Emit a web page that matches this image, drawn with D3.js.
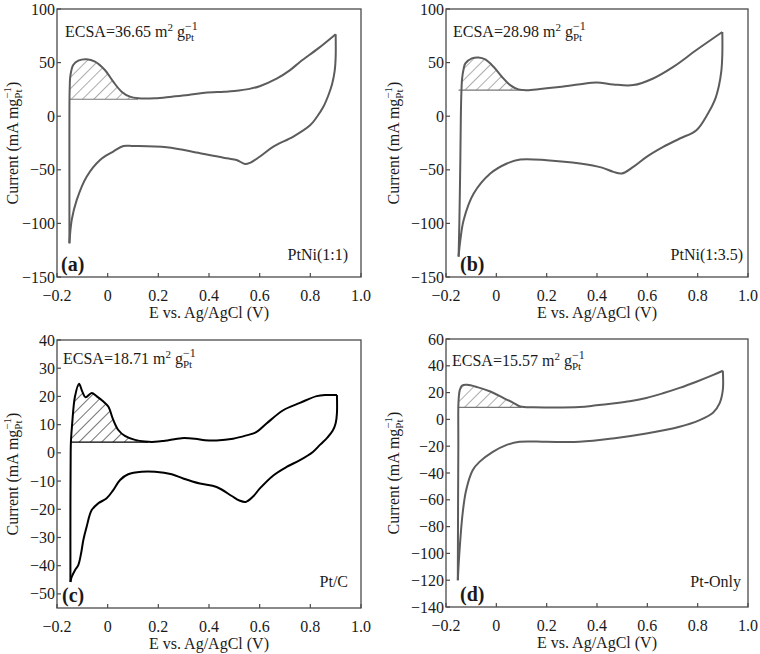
<!DOCTYPE html>
<html>
<head>
<meta charset="utf-8">
<script src="https://cdn.jsdelivr.net/npm/d3@7"></script>
<style>
body{margin:0;background:#fff}
svg{display:block}
text{font-family:"Liberation Serif","Times New Roman",serif;fill:#1a1a1a}
</style>
</head>
<body>
<svg id="chart" width="760" height="654"></svg>
<script>
// ---------------- DATA ----------------
const xTicks = [-0.2, 0, 0.2, 0.4, 0.6, 0.8, 1.0];
const xTickLabels = ["\u22120.2", "0", "0.2", "0.4", "0.6", "0.8", "1.0"];

const yTicksAB = [100, 50, 0, -50, -100, -150];
const yTickLabelsAB = ["100", "50", "0", "\u221250", "\u2212100", "\u2212150"];
const yTicksC = [40, 30, 20, 10, 0, -10, -20, -30, -40, -50];
const yTickLabelsC = ["40", "30", "20", "10", "0", "\u221210", "\u221220", "\u221230", "\u221240", "\u221250"];
const yTicksD = [60, 40, 20, 0, -20, -40, -60, -80, -100, -120, -140];
const yTickLabelsD = ["60", "40", "20", "0", "\u221220", "\u221240", "\u221260", "\u221280", "\u2212100", "\u2212120", "\u2212140"];

const panelLetters = ["(a)", "(b)", "(c)", "(d)"];
const sampleNames = ["PtNi(1:1)", "PtNi(1:3.5)", "Pt/C", "Pt-Only"];
const ecsaValues = ["36.65", "28.98", "18.71", "15.57"];
const hdlBaselines = [15.8, 24.3, 3.8, 9.0];
const hdlEnds = [0.12, 0.11, 0.16, 0.10];

const aAnodic = [[-0.151,-118.6],[-0.151,-60],[-0.151,0],[-0.150,25],[-0.147,38],[-0.136,47.8],[-0.116,51.8],[-0.083,53.1],[-0.05,50.9],[-0.011,43.1],[0.022,32.2],[0.055,22.9],[0.088,18.2],[0.121,16.7],[0.187,16.7],[0.253,18.2],[0.318,19.8],[0.384,21.9],[0.46,22.8],[0.5,23.5],[0.56,25.5],[0.6,28],[0.667,35],[0.72,43],[0.76,50.8],[0.83,63],[0.9,76.5]];
const aCathodic = [[0.9,76.5],[0.9,55],[0.896,42],[0.886,30],[0.872,20],[0.852,9],[0.825,-1],[0.799,-8.5],[0.733,-19],[0.654,-28.4],[0.6,-37.8],[0.562,-43.5],[0.542,-44.6],[0.509,-40.8],[0.47,-39.3],[0.365,-34.6],[0.233,-29],[0.101,-27.8],[0.062,-27.8],[0.022,-33],[-0.03,-40.8],[-0.083,-56.4],[-0.122,-78],[-0.142,-96.8],[-0.151,-118.6]];

const bAnodic = [[-0.15,-131],[-0.147,-100],[-0.143,-40],[-0.141,0],[-0.139,21],[-0.136,35],[-0.13,44],[-0.123,49.3],[-0.097,53.9],[-0.071,54.8],[-0.044,53],[-0.011,46.1],[0.022,36.8],[0.055,29],[0.088,25],[0.121,24.3],[0.174,25.3],[0.24,26.9],[0.333,29.8],[0.399,31.5],[0.465,29.6],[0.544,29],[0.623,35.2],[0.703,46],[0.795,61.7],[0.898,78.5]];
const bCathodic = [[0.898,78.5],[0.898,58],[0.894,42],[0.884,28],[0.868,15],[0.841,2.6],[0.795,-13],[0.729,-20.8],[0.663,-28.6],[0.597,-37.9],[0.544,-47.3],[0.498,-53.5],[0.465,-51.9],[0.42,-48],[0.333,-44.1],[0.2,-41],[0.095,-40.4],[0.042,-44.1],[-0.024,-53.5],[-0.09,-72.2],[-0.13,-97],[-0.143,-115.7],[-0.15,-131]];

const cAnodic = [[-0.147,-45.8],[-0.147,-20],[-0.146,0],[-0.145,4],[-0.14,10.5],[-0.129,20],[-0.113,24.5],[-0.1,21.7],[-0.087,19.7],[-0.063,21.2],[-0.043,20],[-0.017,18.2],[0.0025,16.4],[0.022,11.7],[0.042,8.1],[0.068,6],[0.108,4.6],[0.147,4],[0.187,3.9],[0.226,4.3],[0.292,5.2],[0.345,5],[0.384,4.5],[0.43,4.4],[0.495,5],[0.548,6.2],[0.588,7.4],[0.627,10.4],[0.693,15.1],[0.759,17.7],[0.825,20.1],[0.864,20.5],[0.905,20.5]];
const cCathodic = [[0.905,20.5],[0.905,14],[0.9,10.5],[0.888,7.8],[0.868,5.5],[0.84,3],[0.81,0.3],[0.759,-2.6],[0.706,-5],[0.654,-8],[0.6,-12.7],[0.574,-15.5],[0.545,-17.4],[0.52,-16.9],[0.49,-15.3],[0.43,-12.1],[0.364,-10.9],[0.298,-9.1],[0.253,-7.6],[0.187,-6.7],[0.134,-6.7],[0.081,-7.6],[0.049,-9.6],[0.022,-13.2],[-0.004,-16.1],[-0.037,-17.9],[-0.063,-20.3],[-0.083,-26.2],[-0.096,-30.9],[-0.105,-35.7],[-0.116,-39.8],[-0.129,-41.6],[-0.142,-44],[-0.147,-45.8]];

const dAnodic = [[-0.153,-120],[-0.152,-60],[-0.151,-20],[-0.151,9],[-0.149,17],[-0.145,22],[-0.136,25.3],[-0.116,25.8],[-0.076,24.1],[-0.024,20.8],[0.029,15.9],[0.069,12.2],[0.095,9.6],[0.148,9.0],[0.198,8.9],[0.33,9.2],[0.397,10.5],[0.463,11.9],[0.53,13.5],[0.596,16],[0.662,19.5],[0.728,23.5],[0.8,28.5],[0.86,33],[0.9,36.3]];
const dCathodic = [[0.9,36.3],[0.9,22],[0.887,12],[0.861,5],[0.808,-0.5],[0.728,-5.5],[0.596,-10.5],[0.463,-14.2],[0.33,-16.7],[0.198,-16.7],[0.092,-16.7],[0.039,-19.2],[-0.014,-24.2],[-0.067,-31.7],[-0.094,-37.9],[-0.12,-52.8],[-0.134,-70.3],[-0.147,-100],[-0.153,-120]];

// ---------------- LAYOUT ----------------
const panels = [
  {box:[57,361,9,277], yDom:[-150,100], yT:yTicksAB, yL:yTickLabelsAB, an:aAnodic, ca:aCathodic, col:"#5c5c5c", ecsaDy:28, ecsaDx:8, nameDx:-13, nameDy:-17, letDx:4, ytx:12},
  {box:[446,748,9,277], yDom:[-150,100], yT:yTicksAB, yL:yTickLabelsAB, an:bAnodic, ca:bCathodic, col:"#5c5c5c", ecsaDy:28, ecsaDx:7, nameDx:-5, nameDy:-17, letDx:14, ytx:393},
  {box:[57,361,340,608], yDom:[-55,40], yT:yTicksC, yL:yTickLabelsC, an:cAnodic, ca:cCathodic, col:"#000", ecsaDy:24, ecsaDx:6, nameDx:-13, nameDy:-21, letDx:5, ytx:12},
  {box:[446,748,339,607], yDom:[-140,60], yT:yTicksD, yL:yTickLabelsD, an:dAnodic, ca:dCathodic, col:"#5c5c5c", ecsaDy:27, ecsaDx:6, nameDx:-7, nameDy:-20, letDx:14, ytx:393}
];

const svg = d3.select("#chart");
const defs = svg.append("defs");
function makePattern(id, color){
  const p = defs.append("pattern").attr("id", id).attr("patternUnits","userSpaceOnUse")
    .attr("width", 8).attr("height", 8).attr("patternTransform","rotate(45)");
  p.append("line").attr("x1",0).attr("y1",-1).attr("x2",0).attr("y2",9)
    .attr("stroke", color).attr("stroke-width", 1.1);
}
makePattern("hatchGray", "#666");
makePattern("hatchBlack", "#000");

const frameColor = "#4a4a4a";

panels.forEach((P, i) => {
  const [L, R, T, B] = P.box;
  const x = d3.scaleLinear().domain([-0.2, 1.0]).range([L, R]);
  const y = d3.scaleLinear().domain(P.yDom).range([B, T]);
  const g = svg.append("g");

  const line = d3.line().x(d => x(d[0])).y(d => y(d[1])).curve(d3.curveCatmullRom.alpha(0.5));

  // hatch area
  const base = hdlBaselines[i];
  const clipId = "clip" + i;
  const x0 = P.an[0][0];
  defs.append("clipPath").attr("id", clipId).append("rect")
    .attr("x", x(x0)).attr("y", T).attr("width", x(hdlEnds[i]) - x(x0)).attr("height", y(base) - T);
  const area = d3.area().x(d => x(d[0])).y0(y(base)).y1(d => y(d[1])).curve(d3.curveCatmullRom.alpha(0.5));
  const hatchPts = P.an.filter(d => d[0] <= hdlEnds[i] + 0.08);
  g.append("path").attr("d", area(hatchPts)).attr("clip-path", `url(#${clipId})`)
    .attr("fill", i === 2 ? "url(#hatchBlack)" : "url(#hatchGray)").attr("stroke", "none");
  g.append("line").attr("x1", x(x0)).attr("x2", x(hdlEnds[i])).attr("y1", y(base)).attr("y2", y(base))
    .attr("stroke", i === 2 ? "#000" : "#777").attr("stroke-width", 1.2);

  // curves
  [P.an, P.ca].forEach(arr => {
    g.append("path").attr("d", line(arr)).attr("fill", "none")
      .attr("stroke", P.col).attr("stroke-width", 2).attr("stroke-linejoin", "round");
  });

  // frame
  g.append("rect").attr("x", L).attr("y", T).attr("width", R - L).attr("height", B - T)
    .attr("fill", "none").attr("stroke", frameColor).attr("stroke-width", 1.3);

  // x ticks
  xTicks.forEach((t, k) => {
    g.append("line").attr("x1", x(t)).attr("x2", x(t)).attr("y1", B).attr("y2", B - 4)
      .attr("stroke", frameColor).attr("stroke-width", 1.2);
    g.append("text").attr("x", x(t)).attr("y", B + 24).attr("text-anchor", "middle")
      .attr("font-size", 16).text(xTickLabels[k]);
  });
  // y ticks
  P.yT.forEach((t, k) => {
    g.append("line").attr("x1", L).attr("x2", L + 4).attr("y1", y(t)).attr("y2", y(t))
      .attr("stroke", frameColor).attr("stroke-width", 1.2);
    g.append("text").attr("x", L - 2).attr("y", y(t)).attr("dy", "0.35em").attr("text-anchor", "end")
      .attr("font-size", 16).text(P.yL[k]);
  });

  // x title
  g.append("text").attr("x", (L + R) / 2).attr("y", B + 41).attr("text-anchor", "middle")
    .attr("font-size", 16).text("E vs. Ag/AgCl (V)");

  // y title
  const yt = g.append("text").attr("transform", `translate(${P.ytx},${(T + B) / 2}) rotate(-90)`)
    .attr("text-anchor", "middle").attr("font-size", 16).attr("dy", "0.35em");
  yt.append("tspan").text("Current (mA mg");
  const ptY = yt.append("tspan").attr("font-size", 11).attr("dy", 4).text("Pt");
  const wY = ptY.node().getComputedTextLength();
  yt.append("tspan").attr("font-size", 11).attr("dx", -wY).attr("dy", -11).text("\u22121");
  yt.append("tspan").attr("dy", 7).text(")");

  // ECSA label
  const et = g.append("text").attr("x", L + P.ecsaDx).attr("y", T + P.ecsaDy).attr("font-size", 16);
  et.append("tspan").text(`ECSA=${ecsaValues[i]} m`);
  et.append("tspan").attr("font-size", 11).attr("dy", -6).text("2");
  et.append("tspan").attr("dy", 6).text(" g");
  const ptE = et.append("tspan").attr("font-size", 11).attr("dy", 4).text("Pt");
  const wE = ptE.node().getComputedTextLength();
  et.append("tspan").attr("font-size", 12).attr("dx", -wE).attr("dy", -11).text("\u22121");

  // sample name
  g.append("text").attr("x", R + P.nameDx).attr("y", B + P.nameDy).attr("text-anchor", "end")
    .attr("font-size", 16).text(sampleNames[i]);

  // panel letter
  g.append("text").attr("x", L + P.letDx).attr("y", B - 6).attr("font-size", 20)
    .attr("font-weight", "bold").text(panelLetters[i]);
});
</script>
</body>
</html>
